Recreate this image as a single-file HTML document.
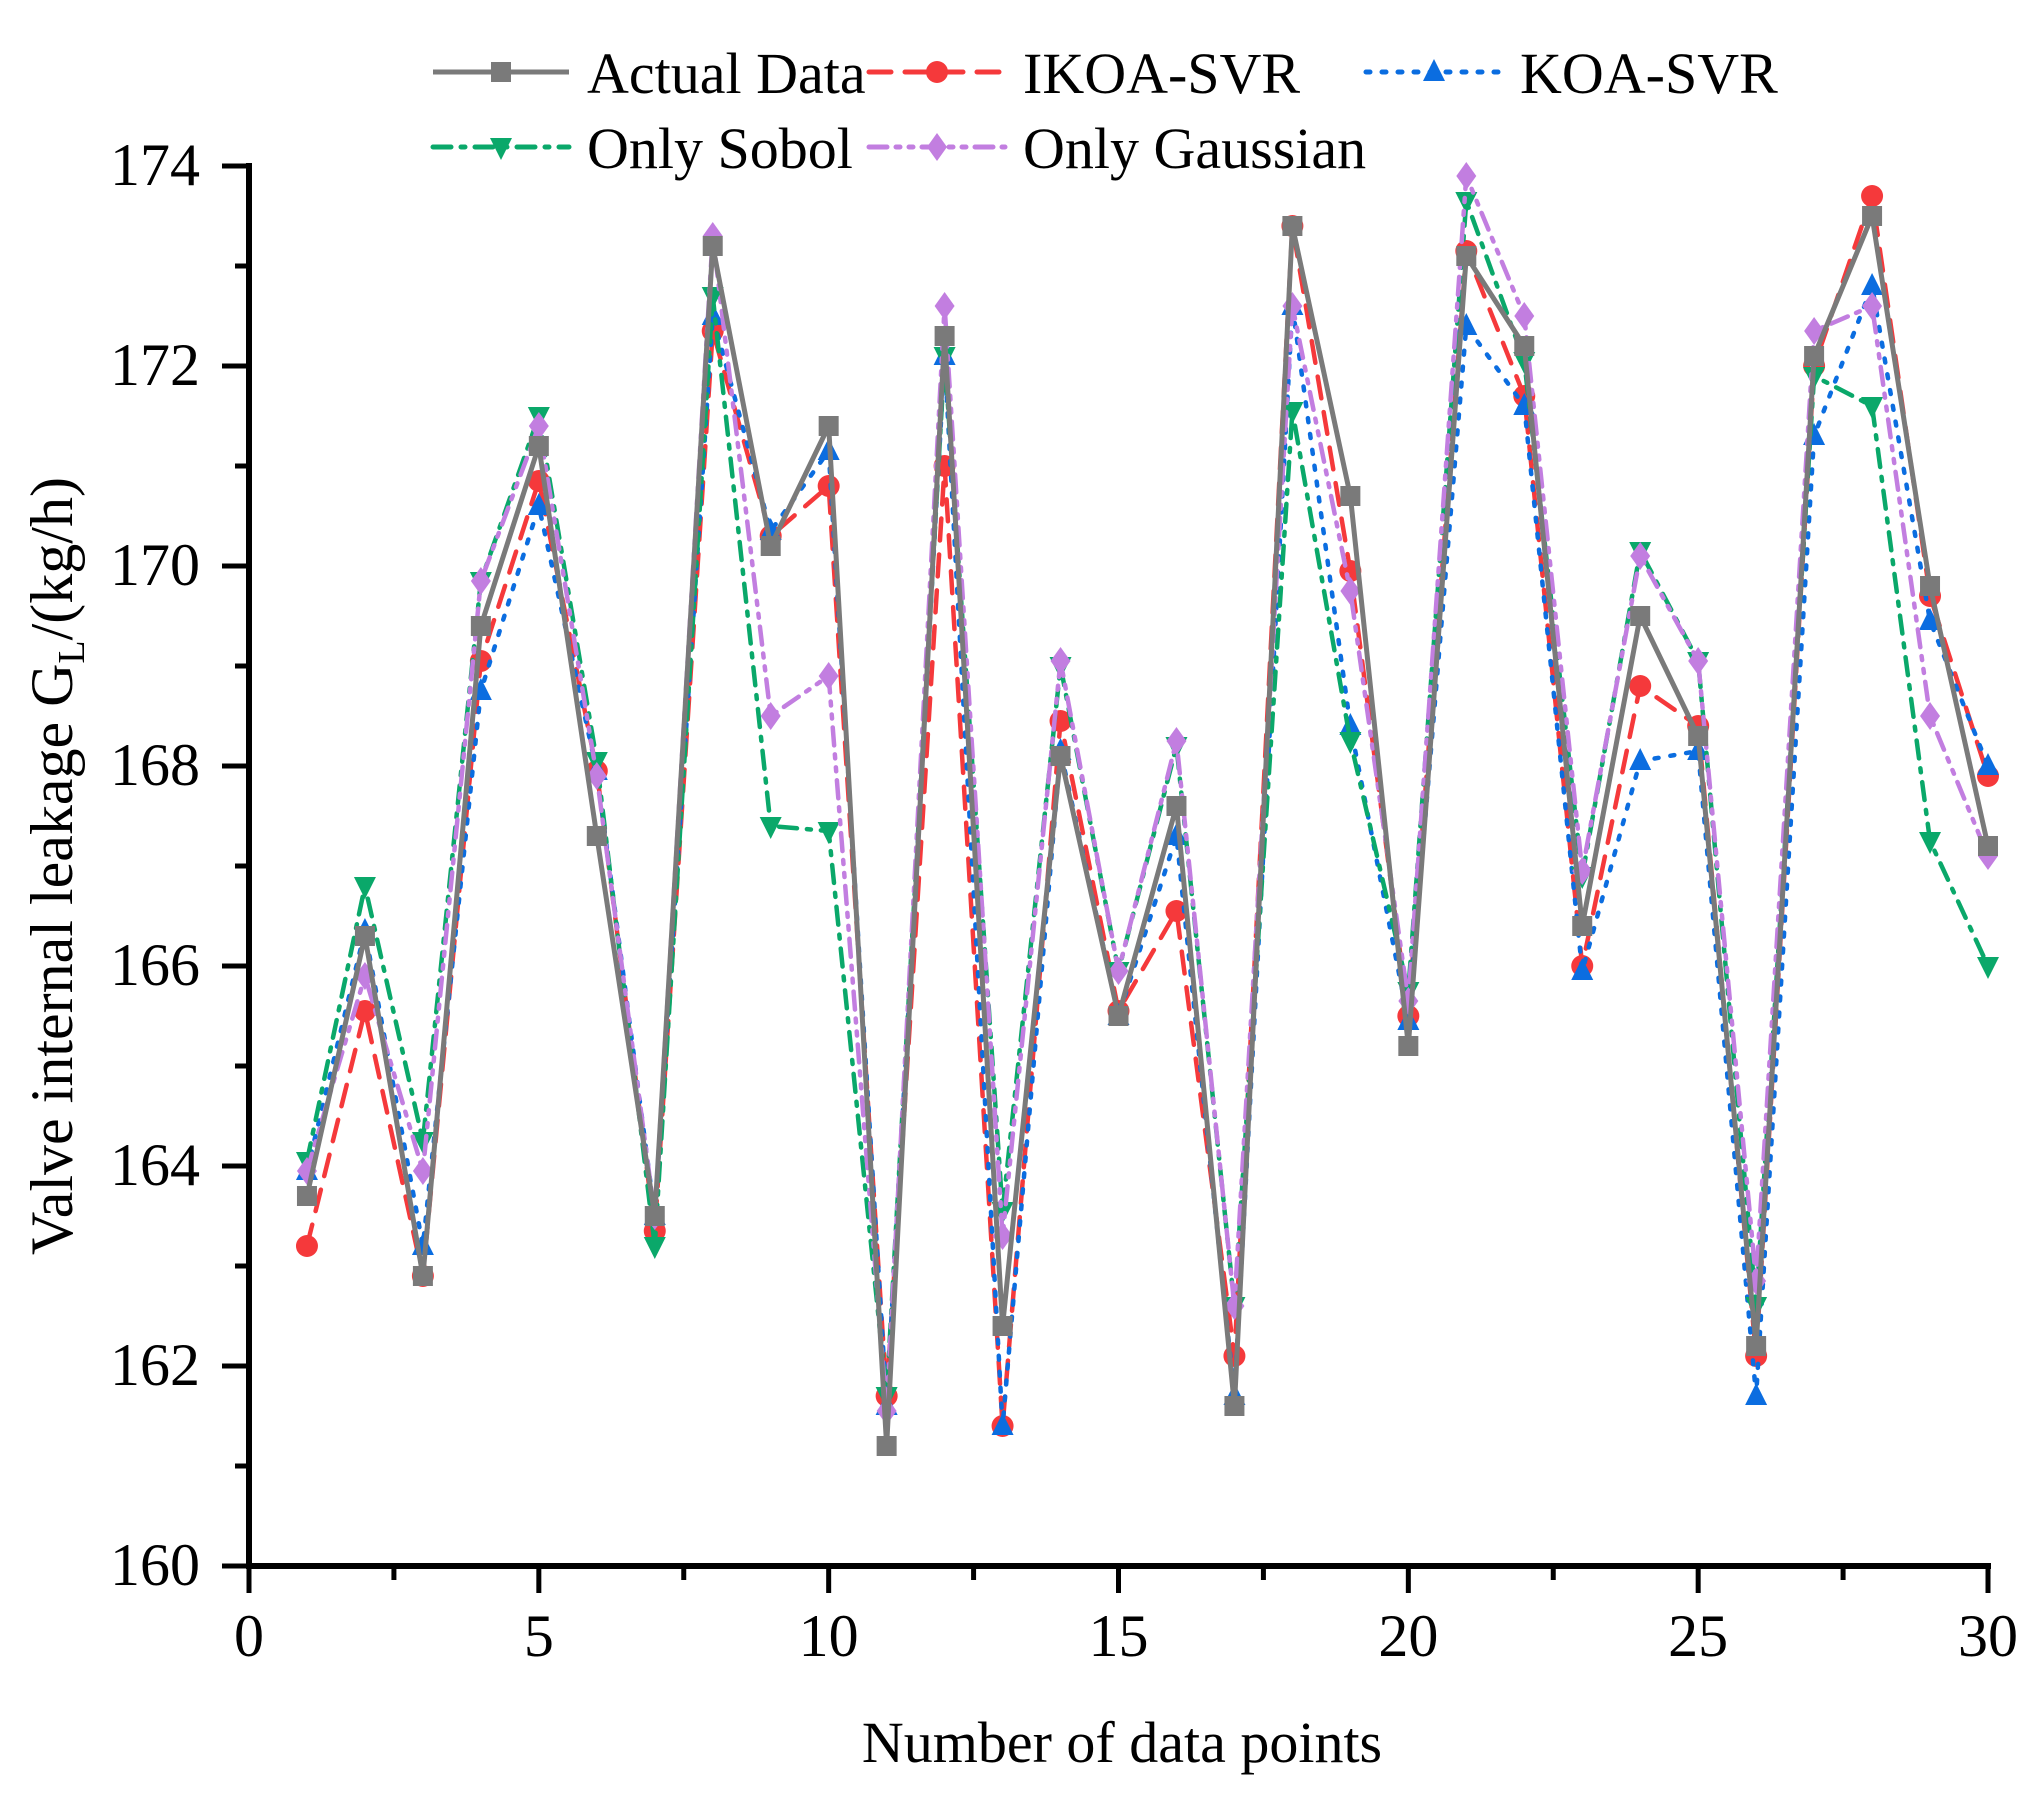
<!DOCTYPE html>
<html><head><meta charset="utf-8"><style>
html,body{margin:0;padding:0;background:#fff;}
svg{display:block;font-family:"Liberation Serif",serif;}
</style></head><body>
<svg id="chart" width="2041" height="1801" viewBox="0 0 2041 1801">
<g id="axes"></g>
<g id="series"></g>
<g id="legend"></g>
<text x="1122" y="1762" font-size="58" text-anchor="middle">Number of data points</text>
<text transform="translate(72,866) rotate(-90)" font-size="60" text-anchor="middle">Valve internal leakage  G<tspan font-size="38" dy="12">L</tspan><tspan dy="-12">/(kg/h)</tspan></text>
</svg>
<script>
const xs = [1,2,3,4,5,6,7,8,9,10,11,12,13,14,15,16,17,18,19,20,21,22,23,24,25,26,27,28,29,30];
const actual = [163.7,166.3,162.9,169.4,171.2,167.3,163.5,173.2,170.2,171.4,161.2,172.3,162.4,168.1,165.5,167.6,161.6,173.4,170.7,165.2,173.1,172.2,166.4,169.5,168.3,162.2,172.1,173.5,169.8,167.2];
const ikoa = [163.2,165.55,162.9,169.05,170.85,167.95,163.35,172.35,170.3,170.8,161.7,171.0,161.4,168.45,165.55,166.55,162.1,173.4,169.95,165.5,173.15,171.7,166.0,168.8,168.4,162.1,172.0,173.7,169.7,167.9];
const koa = [163.95,166.35,163.2,168.75,170.6,167.95,163.5,172.5,170.35,171.15,161.6,172.1,161.4,168.15,165.5,167.3,161.7,172.6,168.4,165.45,172.4,171.6,165.95,168.05,168.15,161.7,171.3,172.8,169.45,168.0];
const sobol = [164.05,166.8,164.25,169.85,171.5,168.05,163.2,172.7,167.4,167.35,161.7,172.1,163.55,169.0,165.95,168.2,162.6,171.55,168.25,165.75,173.65,172.05,166.9,170.15,169.05,162.6,171.9,171.6,167.25,166.0];
const gauss = [163.95,165.9,163.95,169.85,171.4,167.9,163.5,173.3,168.5,168.9,161.55,172.6,163.3,169.05,165.95,168.25,162.6,172.6,169.75,165.65,173.9,172.5,166.95,170.1,169.05,162.85,172.35,172.6,168.5,167.1];
const xTicks = [0,5,10,15,20,25,30];
const yTicks = [160,162,164,166,168,170,172,174];

const NS='http://www.w3.org/2000/svg';
const X0=249,X1=1988,Y0=1566,Y1=166;
const sx=v=>X0+(v-0)/30*(X1-X0);
const sy=v=>Y0-(v-160)/14*(Y0-Y1);
function mk(tag,attrs,parent){const e=document.createElementNS(NS,tag);for(const k in attrs)e.setAttribute(k,attrs[k]);parent.appendChild(e);return e;}
const axes=document.getElementById('axes');
let e;
e=mk('line',{x1:X0,y1:Y0,x2:X1+3,y2:Y0,stroke:'#000','stroke-width':6},axes);


e=mk('line',{x1:X0,y1:Y0+3,x2:X0,y2:Y1-3,stroke:'#000','stroke-width':6},axes);


xTicks.forEach(t=>{
  e=mk('line',{x1:sx(t),y1:Y0,x2:sx(t),y2:Y0+27,stroke:'#000','stroke-width':5},axes);
  
  
  e=mk('text',{x:sx(t),y:1656,'font-size':60,'text-anchor':'middle'},axes);
  e.textContent=t;
  
  
  if(t<30){
    e=mk('line',{x1:sx(t+2.5),y1:Y0,x2:sx(t+2.5),y2:Y0+14,stroke:'#000','stroke-width':5},axes);
    
    
  }
});
yTicks.forEach(t=>{
  e=mk('line',{x1:X0,y1:sy(t),x2:X0-27,y2:sy(t),stroke:'#000','stroke-width':5},axes);
  
  
  e=mk('text',{x:200,y:sy(t)+19,'font-size':60,'text-anchor':'end'},axes);
  e.textContent=t;
  
  
  if(t<174){
    e=mk('line',{x1:X0,y1:sy(t+1),x2:X0-14,y2:sy(t+1),stroke:'#000','stroke-width':5},axes);
    
    
  }
});

function marker(shape,x,y,color,parent){
  const s=10;
  if(shape==='square') return mk('rect',{x:x-s,y:y-s,width:2*s,height:2*s,fill:color},parent);
  if(shape==='circle') return mk('circle',{cx:x,cy:y,r:s+1,fill:color},parent);
  if(shape==='up') return mk('polygon',{points:`${x},${y-13} ${x-11},${y+9} ${x+11},${y+9}`,fill:color},parent);
  if(shape==='down') return mk('polygon',{points:`${x},${y+13} ${x-11},${y-9} ${x+11},${y-9}`,fill:color},parent);
  return mk('polygon',{points:`${x},${y-14} ${x-10},${y} ${x},${y+14} ${x+10},${y}`,fill:color},parent);
}
const seriesDefs=[
  {name:'actual-data',label:'Actual Data',vals:actual,color:'#7a7a7a',dash:'',shape:'square'},
  {name:'ikoa-svr',label:'IKOA-SVR',vals:ikoa,color:'#f5393b',dash:'22 14',shape:'circle'},
  {name:'koa-svr',label:'KOA-SVR',vals:koa,color:'#0b6de0',dash:'4 12',shape:'up'},
  {name:'only-sobol',label:'Only Sobol',vals:sobol,color:'#0aa86a',dash:'18 10 4 10',shape:'down'},
  {name:'only-gaussian',label:'Only Gaussian',vals:gauss,color:'#c27ee0',dash:'18 9 4 9 4 9',shape:'diamond'}
];
const sg=document.getElementById('series');
[1,2,3,4,0].forEach(i=>{
  const d=seriesDefs[i];
  const g=mk('g',{},sg);
  
  
  const pts=d.vals.map((v,j)=>sx(xs[j])+','+sy(v)).join(' ');
  const pl=mk('polyline',{points:pts,fill:'none',stroke:d.color,'stroke-width':i===0?5:4.5,'stroke-dasharray':d.dash,'stroke-linejoin':'round','stroke-linecap':d.dash?'round':'butt'},g);
  
  
  d.vals.forEach((v,j)=>{
    const m=marker(d.shape,sx(xs[j]),sy(v),d.color,g);
    
    
  });
});

const lg=document.getElementById('legend');
const lpos=[[433,72],[869,72],[1366,72],[433,147],[869,147]];
seriesDefs.forEach((d,i)=>{
  const [x,y]=lpos[i];
  const g=mk('g',{},lg);
  
  
  mk('line',{x1:x,y1:y,x2:x+136,y2:y,stroke:d.color,'stroke-width':5,'stroke-dasharray':d.dash,'stroke-linecap':d.dash?'round':'butt'},g);
  marker(d.shape,x+68,y,d.color,g);
  const t=mk('text',{x:x+154,y:y+21,'font-size':58},g);
  t.textContent=d.label;
});
</script>
</body></html>
